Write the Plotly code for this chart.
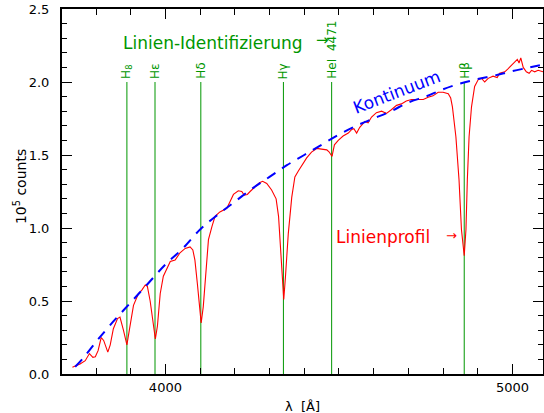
import plotly.graph_objects as go

# Observed spectrum (wavelength in Angstrom, counts in 1e5)
spec_wl = [3732, 3754, 3769, 3781, 3791, 3798, 3806, 3815, 3822, 3834, 3841, 3850, 3862, 3869,
           3879, 3889, 3896, 3908, 3922, 3932, 3942, 3948, 3956, 3965, 3971, 3977, 3985, 3994,
           4004, 4014, 4028, 4042, 4057, 4071, 4079, 4085, 4092, 4098, 4103, 4109, 4116, 4124,
           4134, 4143, 4157, 4177, 4186, 4196, 4210, 4220, 4227, 4236, 4244, 4258, 4271, 4280,
           4292, 4306, 4319, 4326, 4332, 4338, 4341, 4346, 4354, 4364, 4373, 4383, 4393, 4407,
           4421, 4436, 4450, 4465, 4472, 4480, 4487, 4498, 4512, 4527, 4537, 4543, 4551, 4560,
           4575, 4584, 4594, 4608, 4623, 4637, 4651, 4666, 4680, 4694, 4709, 4723, 4743, 4757,
           4771, 4786, 4800, 4815, 4822, 4827, 4832, 4837, 4846, 4853, 4861, 4866, 4870, 4875,
           4882, 4891, 4901, 4911, 4920, 4930, 4944, 4956, 4963, 4978, 4987, 4997, 5007, 5014,
           5019, 5024, 5031, 5040, 5048, 5055, 5064, 5074, 5088]
spec_val = [0.046, 0.068, 0.091, 0.14, 0.114, 0.118, 0.16, 0.25, 0.23, 0.15, 0.20, 0.31, 0.38, 0.39,
            0.30, 0.20, 0.30, 0.47, 0.55, 0.575, 0.61, 0.60, 0.50, 0.33, 0.24, 0.33, 0.55, 0.67,
            0.72, 0.77, 0.78, 0.83, 0.86, 0.87, 0.85, 0.78, 0.62, 0.46, 0.35, 0.46, 0.71, 0.92,
            1.01, 1.08, 1.11, 1.135, 1.18, 1.23, 1.255, 1.25, 1.225, 1.23, 1.25, 1.28, 1.31, 1.32,
            1.305, 1.26, 1.20, 1.08, 0.85, 0.62, 0.51, 0.67, 0.96, 1.21, 1.35, 1.39, 1.43, 1.48,
            1.52, 1.545, 1.54, 1.535, 1.52, 1.49, 1.57, 1.60, 1.63, 1.65, 1.675, 1.68, 1.65, 1.69,
            1.73, 1.72, 1.76, 1.79, 1.80, 1.785, 1.81, 1.84, 1.85, 1.87, 1.88, 1.88, 1.88, 1.895,
            1.905, 1.93, 1.93, 1.92, 1.89, 1.83, 1.74, 1.625, 1.33, 0.99, 0.81, 0.99, 1.33, 1.625,
            1.83, 1.97, 2.015, 2.025, 2.00, 2.025, 2.04, 2.03, 2.06, 2.07, 2.09, 2.115, 2.14, 2.155,
            2.13, 2.165, 2.10, 2.07, 2.06, 2.08, 2.07, 2.08, 2.07]

# Continuum fit
cont_wl = [3740, 3760, 3800, 3850, 3900, 3950, 4000, 4050, 4100, 4150, 4200, 4250, 4300, 4350,
           4400, 4450, 4500, 4550, 4600, 4650, 4700, 4750, 4800, 4850, 4900, 4950, 5000, 5050, 5088]
cont_val = [0.05, 0.10, 0.22, 0.36, 0.49, 0.62, 0.75, 0.86, 0.99, 1.09, 1.18, 1.27, 1.35, 1.43,
            1.50, 1.57, 1.64, 1.70, 1.75, 1.80, 1.86, 1.90, 1.95, 1.99, 2.02, 2.045, 2.075, 2.10, 2.12]

# Line identifications
line_wl = [3889, 3970, 4102, 4340, 4479, 4861]
line_labels = ["H<sub>8</sub>", "Hε", "Hδ", "Hγ", "HeI  4471", "Hβ"]
line_top = 2.0

GREEN = "#009600"
FONT = "DejaVu Sans"

fig = go.Figure()

lx, ly = [], []
for w in line_wl:
    lx += [w, w, None]
    ly += [0, line_top, None]
fig.add_trace(go.Scatter(x=lx, y=ly, mode="lines", line=dict(color=GREEN, width=1),
                         hoverinfo="skip", showlegend=False))

fig.add_trace(go.Scatter(x=spec_wl, y=spec_val, mode="lines",
                         line=dict(color="#ff0000", width=1.1), showlegend=False))

fig.add_trace(go.Scatter(x=cont_wl, y=cont_val, mode="lines", line_shape="spline",
                         line=dict(color="#0000ff", width=2, dash="10px,8px"), showlegend=False))

for w, lab in zip(line_wl, line_labels):
    fig.add_annotation(x=w, y=line_top, text=lab, showarrow=False, textangle=-90,
                       xanchor="center", yanchor="bottom", yshift=1,
                       font=dict(family=FONT, size=12, color=GREEN))

fig.add_annotation(x=4136, y=2.27, text="Linien-Identifizierung", showarrow=False,
                   xanchor="center", yanchor="middle", font=dict(family=FONT, size=17, color=GREEN))
fig.add_annotation(x=4452, y=2.29, text="→", showarrow=False,
                   xanchor="center", yanchor="middle", font=dict(family=FONT, size=15, color=GREEN))

fig.add_annotation(x=4666, y=1.93, text="Kontinuum", showarrow=False, textangle=-21,
                   xanchor="center", yanchor="middle", font=dict(family=FONT, size=17, color="#0000ff"))

fig.add_annotation(x=4628, y=0.94, text="Linienprofil", showarrow=False,
                   xanchor="center", yanchor="middle", font=dict(family=FONT, size=17, color="#ff0000"))
fig.add_annotation(x=4824, y=0.95, text="→", showarrow=False,
                   xanchor="center", yanchor="middle", font=dict(family=FONT, size=13, color="#ff0000"))

# Axis titles
fig.add_annotation(xref="paper", yref="paper", x=0.5, y=0, yshift=-32, text="λ  [Å]",
                   showarrow=False, xanchor="center", yanchor="middle",
                   font=dict(family=FONT, size=13, color="black"))
fig.add_annotation(xref="paper", yref="paper", x=0, y=0.512, xshift=-42, text="10<sup>5</sup> counts",
                   showarrow=False, textangle=-90, xanchor="center", yanchor="middle",
                   font=dict(family=FONT, size=14, color="black"))

fig.update_layout(
    width=544, height=413,
    margin=dict(l=62, r=1, t=9, b=39),
    paper_bgcolor="white", plot_bgcolor="white",
    font=dict(family=FONT, size=13, color="black"),
    showlegend=False,
)
fig.update_xaxes(range=[3702, 5088], showgrid=False, zeroline=False, automargin=False,
                 showline=True, linecolor="black", linewidth=2, mirror="ticks",
                 ticks="inside", ticklen=10, tickwidth=1, tickcolor="black",
                 tick0=0, dtick=1000, tickfont=dict(size=13),
                 minor=dict(ticks="inside", ticklen=6, tickwidth=1, tickcolor="black", dtick=100, showgrid=False))
fig.update_yaxes(range=[0, 2.5], showgrid=False, zeroline=False, automargin=False,
                 showline=True, linecolor="black", linewidth=2, mirror="ticks",
                 ticks="inside", ticklen=10, tickwidth=1, tickcolor="black",
                 tick0=0, dtick=0.5, tickformat=".1f", tickfont=dict(size=13),
                 ticklabelstandoff=8,
                 minor=dict(ticks="inside", ticklen=5, tickwidth=1, tickcolor="black", dtick=0.1, showgrid=False))

fig.write_html("out.html", config={"displayModeBar": False},
               post_script="document.body.style.margin='0';document.body.style.overflow='hidden';")
